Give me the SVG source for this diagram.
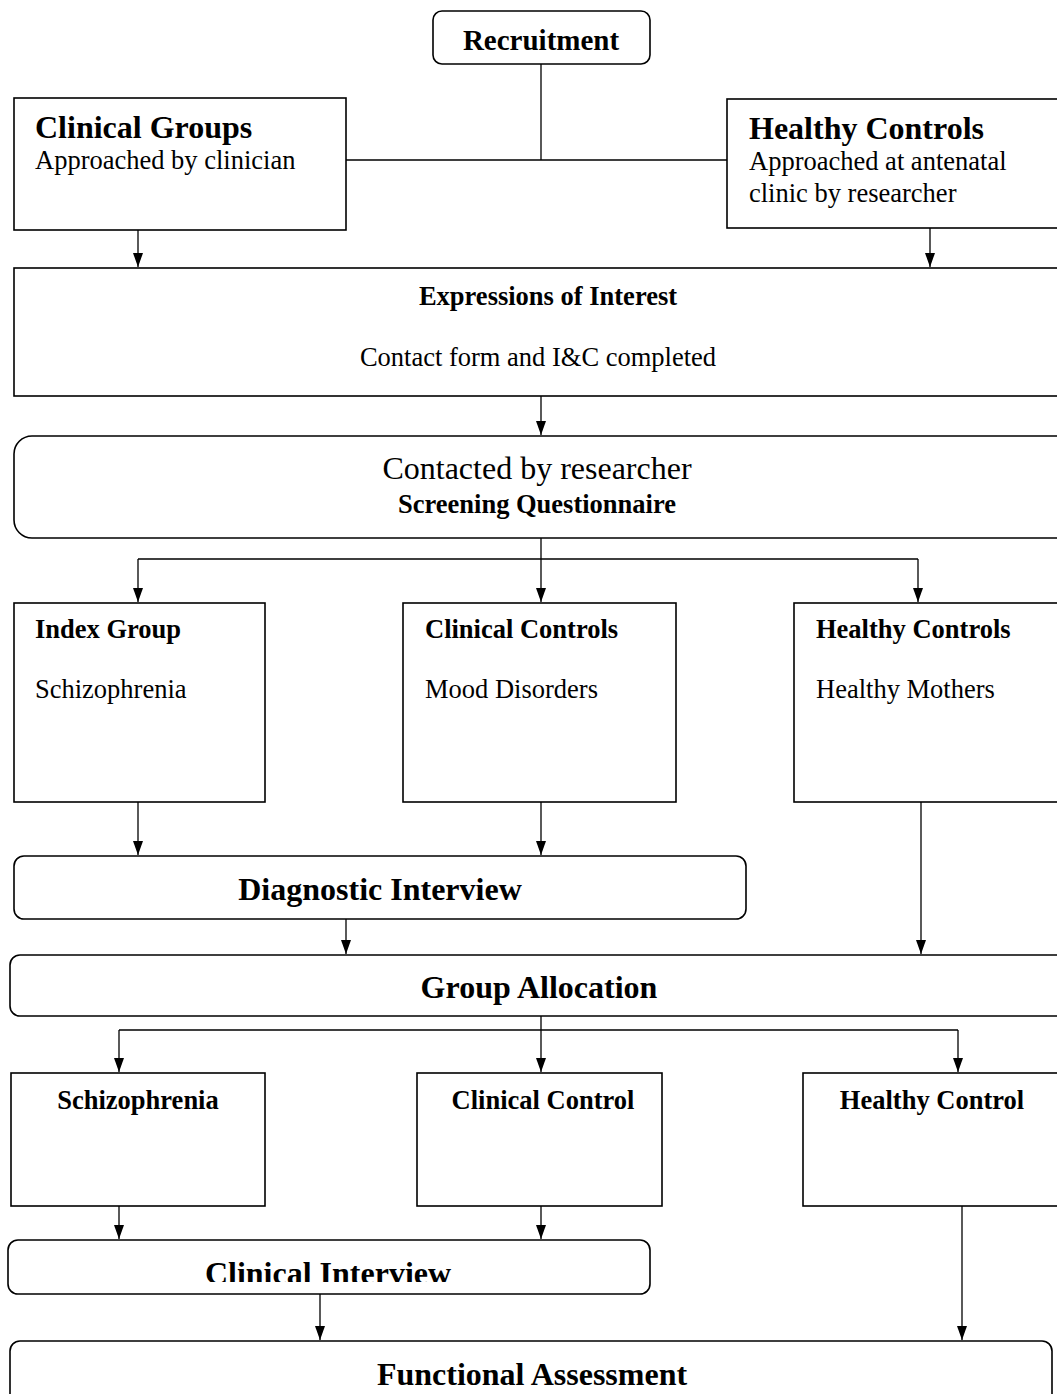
<svg xmlns="http://www.w3.org/2000/svg" width="1057" height="1394" viewBox="0 0 1057 1394">
<defs>
<style>
.box{fill:#fff;stroke:#000;stroke-width:1.6}
.ln{fill:none;stroke:#000;stroke-width:1.3}
text{font-family:"Liberation Serif","Times New Roman",serif;fill:#000}
.b32{font-size:32px;font-weight:bold}
.b26{font-size:26.5px;font-weight:bold}
.r26{font-size:26.5px}
.r32{font-size:32px}
.c{text-anchor:middle}
</style>
<marker id="ah" markerUnits="userSpaceOnUse" markerWidth="14" markerHeight="11" refX="14" refY="5" orient="auto" viewBox="0 0 14 10">
<path d="M0,0 L14,5 L0,10 Z" fill="#000"/>
</marker>
<clipPath id="ciclip"><rect x="0" y="1240" width="1057" height="42"/></clipPath>
</defs>
<rect width="1057" height="1394" fill="#fff"/>

<g id="connectors">
<path class="ln" d="M541,64 V160 M346,160 H727"/>
<path class="ln" d="M138,230 V267" marker-end="url(#ah)"/>
<path class="ln" d="M930,228 V267" marker-end="url(#ah)"/>
<path class="ln" d="M541,396 V435" marker-end="url(#ah)"/>
<path class="ln" d="M541,538 V559 M138,559 H918"/>
<path class="ln" d="M138,559 V602" marker-end="url(#ah)"/>
<path class="ln" d="M541,559 V602" marker-end="url(#ah)"/>
<path class="ln" d="M918,559 V602" marker-end="url(#ah)"/>
<path class="ln" d="M138,802 V855" marker-end="url(#ah)"/>
<path class="ln" d="M541,802 V855" marker-end="url(#ah)"/>
<path class="ln" d="M921,802 V954" marker-end="url(#ah)"/>
<path class="ln" d="M346,919 V954" marker-end="url(#ah)"/>
<path class="ln" d="M541,1016 V1030 M119,1030 H958"/>
<path class="ln" d="M119,1030 V1072" marker-end="url(#ah)"/>
<path class="ln" d="M541,1030 V1072" marker-end="url(#ah)"/>
<path class="ln" d="M958,1030 V1072" marker-end="url(#ah)"/>
<path class="ln" d="M119,1206 V1239" marker-end="url(#ah)"/>
<path class="ln" d="M541,1206 V1239" marker-end="url(#ah)"/>
<path class="ln" d="M962,1206 V1340" marker-end="url(#ah)"/>
<path class="ln" d="M320,1294 V1340" marker-end="url(#ah)"/>
</g>

<g id="recruitment">
<rect class="box" x="433" y="11" width="217" height="53" rx="9"/>
<text class="b26 c" x="541" y="50" style="font-size:29px">Recruitment</text>
</g>

<g id="clinical-groups">
<rect class="box" x="14" y="98" width="332" height="132"/>
<text class="b32" x="35" y="138">Clinical Groups</text>
<text class="r26" x="35" y="169">Approached by clinician</text>
</g>

<g id="healthy-controls-top">
<rect class="box" x="727" y="99" width="340" height="129"/>
<text class="b32" x="749" y="139">Healthy Controls</text>
<text class="r26" x="749" y="170">Approached at antenatal</text>
<text class="r26" x="749" y="202">clinic by researcher</text>
</g>

<g id="expressions">
<rect class="box" x="14" y="268" width="1053" height="128"/>
<text class="b26 c" x="548" y="305">Expressions of Interest</text>
<text class="r26 c" x="538" y="366">Contact form and I&amp;C completed</text>
</g>

<g id="contacted">
<rect class="box" x="14" y="436" width="1062" height="102" rx="18"/>
<text class="r32 c" x="537" y="479">Contacted by researcher</text>
<text class="b26 c" x="537" y="513">Screening Questionnaire</text>
</g>

<g id="index-group">
<rect class="box" x="14" y="603" width="251" height="199"/>
<text class="b26" x="35" y="638">Index Group</text>
<text class="r26" x="35" y="698">Schizophrenia</text>
</g>

<g id="clinical-controls">
<rect class="box" x="403" y="603" width="273" height="199"/>
<text class="b26" x="425" y="638">Clinical Controls</text>
<text class="r26" x="425" y="698">Mood Disorders</text>
</g>

<g id="healthy-controls-mid">
<rect class="box" x="794" y="603" width="273" height="199"/>
<text class="b26" x="816" y="638">Healthy Controls</text>
<text class="r26" x="816" y="698">Healthy Mothers</text>
</g>

<g id="diagnostic-interview">
<rect class="box" x="14" y="856" width="732" height="63" rx="10"/>
<text class="b32 c" x="380" y="900">Diagnostic Interview</text>
</g>

<g id="group-allocation">
<rect class="box" x="10" y="955" width="1066" height="61" rx="10"/>
<text class="b32 c" x="539" y="998">Group Allocation</text>
</g>

<g id="schizophrenia">
<rect class="box" x="11" y="1073" width="254" height="133"/>
<text class="b26 c" x="138" y="1109">Schizophrenia</text>
</g>

<g id="clinical-control">
<rect class="box" x="417" y="1073" width="245" height="133"/>
<text class="b26 c" x="543" y="1109">Clinical Control</text>
</g>

<g id="healthy-control">
<rect class="box" x="803" y="1073" width="264" height="133"/>
<text class="b26 c" x="932" y="1109">Healthy Control</text>
</g>

<g id="clinical-interview">
<rect class="box" x="8" y="1240" width="642" height="54" rx="10"/>
<text class="b32 c" x="328" y="1284" clip-path="url(#ciclip)">Clinical Interview</text>
</g>

<g id="functional-assessment">
<rect class="box" x="10" y="1341" width="1042" height="80" rx="10"/>
<text class="b32 c" x="532" y="1385">Functional Assessment</text>
</g>
</svg>
